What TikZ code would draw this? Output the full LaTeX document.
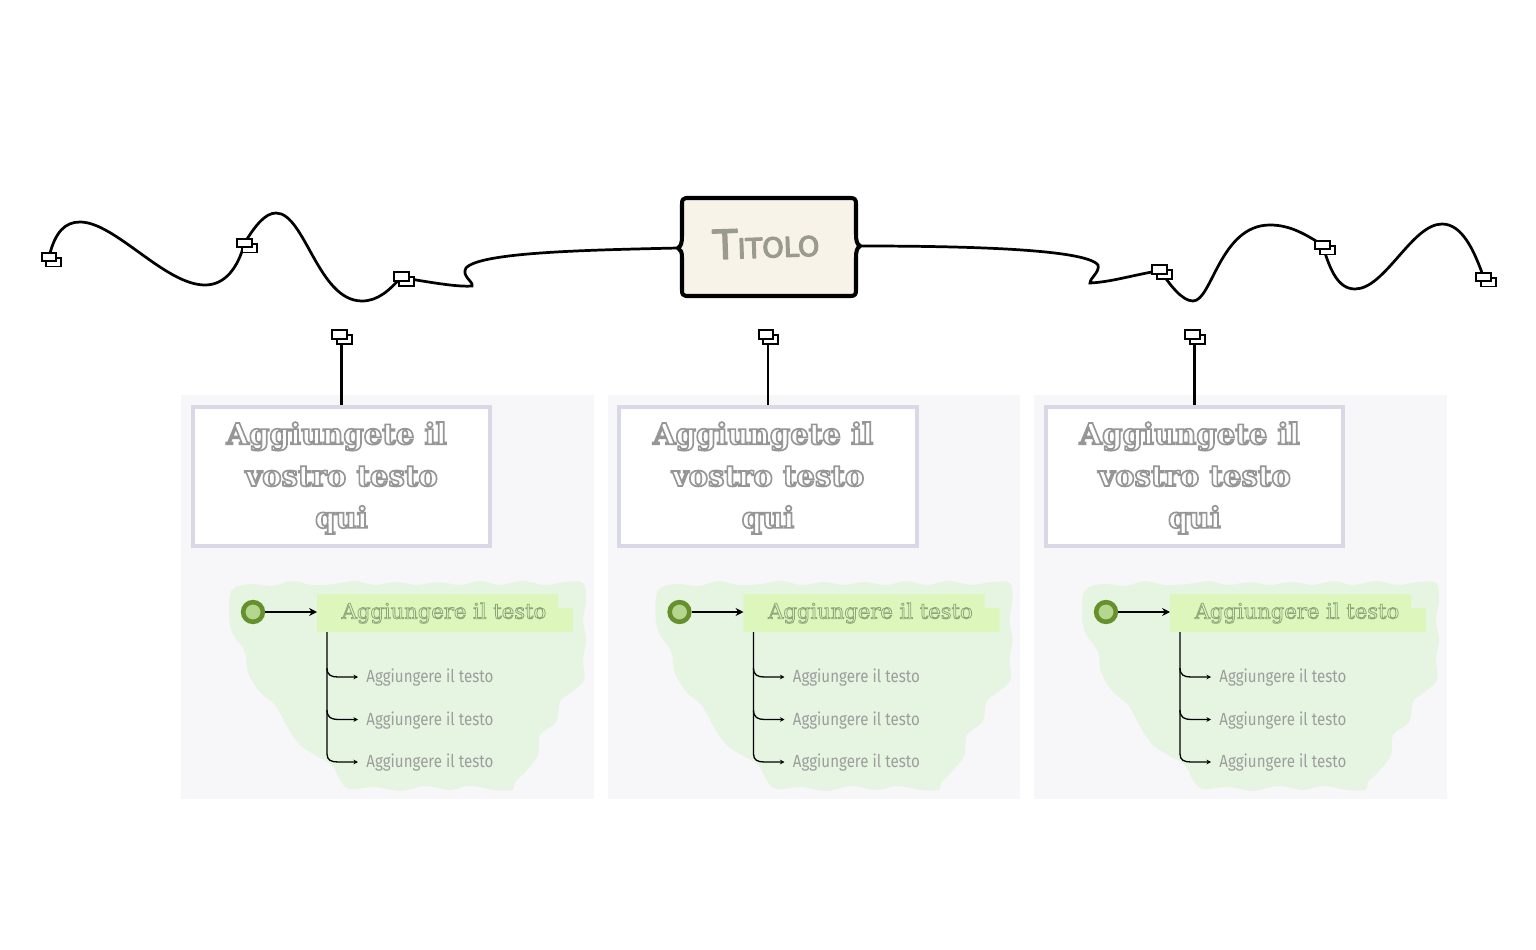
\documentclass[tikz,border=0pt]{standalone}
\usepackage{fontspec}
\setmainfont{DejaVu Serif}
\newfontfamily\rowfont[FakeStretch=0.86]{Fira Sans}
\newfontfamily\titlefont{DejaVu Sans}
\usetikzlibrary{shadows,arrows.meta}
\pgfdeclarelayer{panel}
\pgfdeclarelayer{wire}
\pgfsetlayers{panel,wire,main}
\definecolor{panelbg}{HTML}{F7F7F9}
\definecolor{boxline}{HTML}{D8D8E6}
\definecolor{blobbg}{HTML}{E6F4E2}
\definecolor{labelbg}{HTML}{DDF6BB}
\definecolor{ringcol}{HTML}{66902C}
\definecolor{dotcol}{HTML}{B4D68E}
\definecolor{creambg}{HTML}{F8F3E8}
\definecolor{headtxt}{HTML}{969696}
\definecolor{labeltxt}{HTML}{8CA67C}
\definecolor{rowtxt}{HTML}{9C9E9C}
\definecolor{titletxt}{HTML}{9A9A8E}
% hollow letters
\newcommand{\hollow}[2]{\special{pdf:code 1 Tr #1 w}#2\special{pdf:code 0 Tr}}
\newcommand{\rough}[1]{\special{pdf:code 2 Tr 0.7 w 1 J 1 j}#1\special{pdf:code 0 Tr}}
\tikzset{
	linkicon/.style={draw=black,fill=white,line width=1.1pt,minimum width=8.3pt,minimum height=5pt,inner sep=0pt,
		copy shadow={shadow xshift=2.7pt,shadow yshift=-2.9pt,draw=black,fill=white,line width=1.1pt}},
	wireline/.style={draw=black,line width=1.55pt,line cap=round},
	thinline/.style={draw=black,line width=0.75pt},
	headtext/.style={text=headtxt,align=center,font=\bfseries\fontsize{16.6}{23.8}\selectfont,inner sep=0pt},
	labeltext/.style={text=labeltxt,font=\fontsize{12}{14}\selectfont,inner sep=0pt},
	rowtext/.style={text=rowtxt,font=\rowfont\fontsize{10}{12}\selectfont,inner sep=0pt,anchor=west},
}
\begin{document}
\begin{tikzpicture}[x=0.02cm,y=-0.02cm]
	\useasboundingbox (0,0) rectangle (1536,950);

	% top line
	\node[linkicon] (ia) at (49,257) {};
	\node[linkicon] (ib) at (244.5,243) {};
	\node[linkicon] (ic) at (401.5,276.5) {};
	\node[linkicon] (id) at (1159.5,269.5) {};
	\node[linkicon] (ie) at (1322.5,245) {};
	\node[linkicon] (ig) at (1483.5,277) {};

	\draw[fill=creambg,line width=2.3pt,line join=round]
		(686,198) -- (851,198) .. controls (855,198) and (856,200) .. (856,204)
		-- (856,234) .. controls (856,241) and (857,244) .. (860,246)
		.. controls (857,248) and (856,251) .. (856,258)
		-- (856,290) .. controls (856,294) and (855,296) .. (851,296)
		-- (686,296) .. controls (683,296) and (682,294) .. (682,290)
		-- (682,258) .. controls (682,252) and (681,250) .. (678,248)
		.. controls (681,246) and (682,243) .. (682,236)
		-- (682,204) .. controls (682,200) and (683,198) .. (686,198) -- cycle;
	\node[text=titletxt,rotate=2,inner sep=0pt] (title) at (766,243) {\titlefont\rough{\fontsize{23}{23}\selectfont T{\fontsize{15.5}{16}\selectfont ITOLO}}};
	\coordinate (tl) at (678,248);
	\coordinate (tr) at (860,246);

	\begin{pgfonlayer}{wire}
		\draw[wireline] (ia.center) .. controls (55,232) and (65,222) .. (80,222)
			.. controls (115,222) and (165,285) .. (205,285)
			.. controls (225,285) and (238,268) .. (ib.center);
		\draw[wireline] (ib.center) .. controls (255,226) and (265,213) .. (276,213)
			.. controls (305,213) and (318,301) .. (362,301)
			.. controls (378,301) and (390,290) .. (ic.center);
		\draw[wireline] (ic.center) -- (416,280) .. controls (435,283) and (458,287) .. (472,286)
			.. controls (474,282) and (461,276) .. (466,268)
			.. controls (480,252) and (590,250) .. (tl);
		\draw[wireline] (tr) .. controls (950,246) and (1085,248) .. (1098,265)
			.. controls (1100,272) and (1090,278) .. (1090,283)
			.. controls (1110,282) and (1130,276) .. (1152,272) -- (id.center);
		\draw[wireline] (id.center) .. controls (1170,285) and (1182,301) .. (1193,301)
			.. controls (1212,301) and (1220,225) .. (1270,225)
			.. controls (1290,225) and (1305,234) .. (ie.center);
		\draw[wireline] (ie.center) .. controls (1330,270) and (1338,289) .. (1355,289)
			.. controls (1385,289) and (1412,224) .. (1442,224)
			.. controls (1462,224) and (1474,250) .. (ig.center);
	\end{pgfonlayer}

	% three panels
	\foreach \dx/\k in {0/a,426.5/b,853/c} {
		\begin{scope}[shift={(\dx,0)}]
			\begin{pgfonlayer}{panel}
				\fill[panelbg] (181,395) rectangle (593.5,799);
				\fill[blobbg] plot[smooth cycle,tension=0.6] coordinates {(232,590) (250,584) (272,586) (292,581) (312,585) (335,584) (355,581) (375,585) (397,582) (417,585) (438,582) (460,585) (480,581) (500,585) (522,581) (545,585) (565,582) (583,583) (586,600) (583,620) (586,640) (583,660) (584,680) (570,693) (560,702) (556,722) (540,735) (538,755) (525,772) (515,782) (512,790) (495,790) (470,786) (450,790) (425,786) (400,791) (375,787) (350,789) (340,780) (332,765) (315,755) (300,745) (288,728) (275,705) (260,692) (248,672) (245,652) (232,632) (229,612)};
			\end{pgfonlayer}
			\node[linkicon] (d\k) at (339.5,334.5) {};
			\node[draw=boxline,fill=white,line width=2.3pt,minimum width=169.5pt,minimum height=79.5pt,inner sep=0pt] (box\k) at (341.5,476.5) {};
			\begin{pgfonlayer}{wire}
				\draw[draw=black,line width=1.35pt] (box\k.north) -- (box\k.north |- d\k);
			\end{pgfonlayer}
			\node[headtext] (head\k) at (341.5,478) {\hollow{0.95}{Aggiungete il\hspace*{5.6pt}\\vostro testo\hspace*{8pt}\\qui}};

			\fill[labelbg] (317,594) -- (558,594) -- (558,608) -- (573,608) -- (573,632) -- (317,632) -- cycle;
			\node[labeltext] (label\k) at (444,613) {\hollow{0.45}{Aggiungere il testo}};
			\coordinate (lab\k) at (317,612);
			\node[circle,draw=ringcol,fill=dotcol,line width=2.6pt,minimum size=11.2pt,inner sep=0pt] (dot\k) at (253,612) {};
			\draw[draw=black,line width=0.95pt,-{Stealth[length=4.5pt,width=4.5pt]}] (dot\k) -- (lab\k);

			\node[rowtext] (ra\k) at (366,678) {Aggiungere il testo};
			\node[rowtext] (rb\k) at (366,720.5) {Aggiungere il testo};
			\node[rowtext] (rc\k) at (366,763) {Aggiungere il testo};
			\coordinate (top\k) at (327,632);
			\draw[thinline,-{Stealth[length=2.6pt,width=2.6pt]}] (top\k) -- (327,668) .. controls (327,675) and (331,677) .. (338,677) -- (358,677);
			\draw[thinline,-{Stealth[length=2.6pt,width=2.6pt]}] (327,710) .. controls (327,717) and (331,719.5) .. (338,719.5) -- (358,719.5);
			\draw[thinline,-{Stealth[length=2.6pt,width=2.6pt]}] (327,668) -- (327,754) .. controls (327,760) and (331,762) .. (338,762) -- (358,762);
		\end{scope}
	}
\end{tikzpicture}
\end{document}
